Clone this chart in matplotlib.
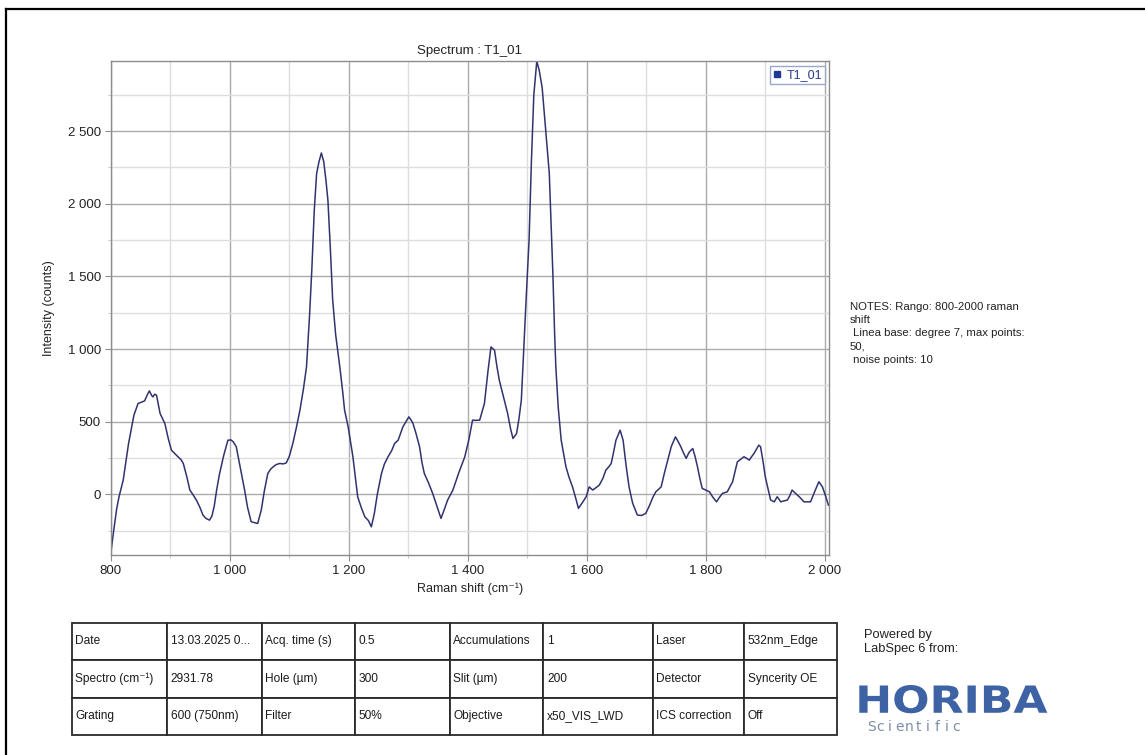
import numpy as np
import matplotlib
matplotlib.use("Agg")
import matplotlib.pyplot as plt
from matplotlib.ticker import MultipleLocator, FuncFormatter
from matplotlib.textpath import TextPath
from matplotlib.patches import PathPatch
from matplotlib.font_manager import FontProperties
from matplotlib.transforms import Affine2D
from matplotlib.lines import Line2D

plt.rcParams['font.family'] = ['Liberation Sans', 'DejaVu Sans']

# Raman spectrum T1_01 (baseline corrected)
shift = [800, 805, 810, 814, 821, 830, 839, 846, 852, 857, 862, 865, 869, 871, 874, 877,
         880, 883, 891, 897, 902, 908, 913, 918, 922, 928, 933, 938, 944, 950, 955, 960,
         966, 970, 974, 978, 983, 990, 997, 1002, 1006, 1011, 1018, 1025, 1030, 1036, 1042,
         1047, 1053, 1058, 1064, 1069, 1073, 1078, 1084, 1090, 1095, 1100, 1106, 1112, 1118,
         1124, 1129, 1134, 1138, 1142, 1146, 1150, 1154, 1158, 1162, 1165, 1169, 1173, 1178,
         1185, 1190, 1193, 1199, 1203, 1207, 1211, 1215, 1221, 1227, 1233, 1238, 1243, 1248,
         1255, 1260, 1266, 1272, 1277, 1283, 1287, 1291, 1296, 1301, 1305, 1308, 1313, 1319,
         1323, 1327, 1334, 1341, 1348, 1355, 1360, 1366, 1375, 1385, 1395, 1402, 1408, 1414,
         1420, 1428, 1434, 1439, 1445, 1449, 1453, 1460, 1467, 1472, 1476, 1482, 1486, 1490,
         1494, 1498, 1503, 1507, 1511, 1516, 1520, 1525, 1530, 1537, 1543, 1546, 1548, 1552,
         1557, 1565, 1570, 1576, 1581, 1586, 1592, 1599, 1604, 1610, 1615, 1621, 1627, 1632,
         1637, 1641, 1645, 1649, 1656, 1661, 1666, 1671, 1677, 1685, 1692, 1699, 1705, 1711,
         1716, 1725, 1730, 1736, 1742, 1749, 1754, 1758, 1762, 1767, 1772, 1778, 1782, 1786,
         1790, 1794, 1800, 1806, 1812, 1818, 1823, 1828, 1836, 1845, 1853, 1858, 1864, 1868,
         1873, 1877, 1881, 1885, 1889, 1892, 1896, 1900, 1905, 1909, 1915, 1920, 1926, 1931,
         1937, 1941, 1945, 1950, 1957, 1965, 1970, 1976, 1983, 1990, 1996, 2002, 2006]
intensity = [-410, -250, -100, -16, 98, 350, 545, 626, 635, 644, 690, 712, 680, 671, 690, 683,
             620, 557, 488, 380, 305, 280, 259, 240, 213, 120, 30, 0, -39, -90, -142, -165,
             -177, -150, -80, 30, 144, 270, 373, 375, 362, 328, 180, 30, -90, -188, -195,
             -200, -108, 20, 144, 175, 190, 205, 213, 210, 217, 260, 350, 460, 580,
             730, 877, 1221, 1550, 1950, 2208, 2290, 2350, 2290, 2150, 2024, 1700, 1338, 1100,
             877, 700, 580, 465, 360, 259, 120, -16, -90, -154, -180, -223, -131, 0,
             144, 210, 259, 300, 350, 373, 420, 465, 500, 534, 510, 488, 420, 328,
             220, 144, 80, 7, -80, -165, -110, -40, 30, 150, 259, 380, 511, 510,
             511, 626, 850, 1015, 992, 880, 786, 670, 557, 450, 385, 419, 520, 648,
             1000, 1338, 1749, 2300, 2750, 2982, 2920, 2800, 2550, 2208, 1520, 1100, 877, 600,
             373, 190, 120, 52, -20, -96, -60, -16, 52, 30, 45, 64, 110, 167,
             190, 213, 290, 373, 442, 373, 200, 52, -60, -142, -145, -131, -80, -20,
             18, 52, 140, 236, 330, 396, 360, 328, 290, 248, 290, 316, 260, 190,
             110, 41, 30, 18, -20, -51, -20, 7, 18, 87, 224, 240, 259, 250,
             236, 260, 282, 310, 339, 328, 230, 121, 30, -39, -51, -16, -51, -45,
             -39, -10, 30, 10, -16, -51, -51, -51, 20, 87, 52, -20, -74]

# acquisition parameters table
table_rows = [
    ["Date", "13.03.2025 0...", "Acq. time (s)", "0.5", "Accumulations", "1", "Laser", "532nm_Edge"],
    ["Spectro (cm\u207b\u00b9)", "2931.78", "Hole (\u00b5m)", "300", "Slit (\u00b5m)", "200", "Detector", "Syncerity OE"],
    ["Grating", "600 (750nm)", "Filter", "50%", "Objective", "x50_VIS_LWD", "ICS correction", "Off"],
]
col_px = [95.6, 94.4, 93.3, 95, 93.3, 110, 91, 93]

notes = ("NOTES: Rango: 800-2000 raman\nshift\n Linea base: degree 7, max points:\n50,\n"
         " noise points: 10")

W, H = 1145, 755
fig = plt.figure(figsize=(W / 100, H / 100), dpi=100)
fig.patch.set_facecolor("white")

# page frame (top and left edges)
fig.add_artist(Line2D([6 / W, 1], [1 - 9 / H, 1 - 9 / H], color="black", lw=1.6))
fig.add_artist(Line2D([6 / W, 6 / W], [0, 1 - 9 / H], color="black", lw=1.6))

ax = fig.add_axes([110.7 / W, 1 - 555 / H, (829 - 110.7) / W, (555 - 60.7) / H])
line_color = "#30336e"
ax.plot(shift, intensity, color=line_color, lw=1.1)
ax.set_xlim(800, 2007)
ax.set_ylim(-417, 2985)

ax.xaxis.set_major_locator(MultipleLocator(200))
ax.xaxis.set_minor_locator(MultipleLocator(100))
ax.yaxis.set_major_locator(MultipleLocator(500))
ax.yaxis.set_minor_locator(MultipleLocator(250))
fmt = FuncFormatter(lambda v, p: "{:,}".format(int(round(v))).replace(",", " "))
ax.xaxis.set_major_formatter(fmt)
ax.yaxis.set_major_formatter(fmt)

ax.grid(which="major", color="#ababab", lw=1.0)
ax.grid(which="minor", color="#dedede", lw=1.0)
ax.set_axisbelow(True)
for s in ax.spines.values():
    s.set_color("#8c8c8c")
    s.set_linewidth(1.0)
ax.tick_params(which="major", length=4, color="#8c8c8c", labelsize=9.5, labelcolor="#222222", pad=3)
ax.tick_params(which="minor", length=2.5, color="#c0c0c0")

ax.set_title("Spectrum : T1_01", fontsize=9.5, color="#222222", pad=5)
ax.set_xlabel("Raman shift (cm\u207b\u00b9)", fontsize=9, color="#222222", labelpad=4)
ax.set_ylabel("Intensity (counts)", fontsize=9, color="#222222", labelpad=9)

proxy = Line2D([], [], marker="s", markersize=4.5, linestyle="none",
               color="#1f3a93", label="T1_01")
leg = ax.legend(handles=[proxy], loc="upper right", bbox_to_anchor=(1.0, 0.997), fontsize=9,
                handlelength=0.6, handletextpad=0.5, borderpad=0.25, borderaxespad=0.3,
                fancybox=False, edgecolor="#9aa8c8", framealpha=1)
for t in leg.get_texts():
    t.set_color("#2b3d8c")

fig.text(850 / W, 1 - 302 / H, notes, fontsize=8.2, color="#222222", va="top", ha="left",
         linespacing=1.4)

# parameters table
tab_ax = fig.add_axes([71.7 / W, 1 - 735 / H, (837.3 - 71.7) / W, (735 - 622.7) / H])
tab_ax.axis("off")
total = sum(col_px)
tbl = tab_ax.table(cellText=table_rows, cellLoc="left", bbox=[0, 0, 1, 1],
                   colWidths=[c / total for c in col_px])
tbl.auto_set_font_size(False)
tbl.set_fontsize(8.6)
for (r, c), cell in tbl.get_celld().items():
    cell.set_edgecolor("#2a2a2a")
    cell.set_linewidth(1.3)
    cell.PAD = 0.035
    cell.get_text().set_color("#1a1a1a")

fig.text(864 / W, 1 - 629 / H, "Powered by\nLabSpec 6 from:", fontsize=9.3, color="#222222",
         va="top", ha="left", linespacing=1.2)

# HORIBA logo text fitted into its pixel box
def fitted_text(s, box, color, weight):
    x0, y0, x1, y1 = box
    tp = TextPath((0, 0), s, size=10, prop=FontProperties(family="DejaVu Sans", weight=weight))
    ext = tp.get_extents()
    sx = (x1 - x0) / ext.width
    sy = (y1 - y0) / ext.height
    tr = (Affine2D().translate(-ext.x0, -ext.y0).scale(sx, sy)
          .translate(x0, H - y1).scale(1 / W, 1 / H))
    patch = PathPatch(tr.transform_path(tp), color=color, lw=0, transform=fig.transFigure)
    fig.add_artist(patch)

fitted_text("HORIBA", (859.3, 685, 1047.3, 713.3), "#3d63a5", "bold")

sci = "Scientific"
for i, ch in enumerate(sci):
    fig.text((871 + i * 9.5) / W, 1 - 727 / H, ch, fontsize=10, color="#7f8da5",
             ha="center", va="center", family="DejaVu Sans")

fig.savefig("out.png", dpi=100, facecolor="white")
